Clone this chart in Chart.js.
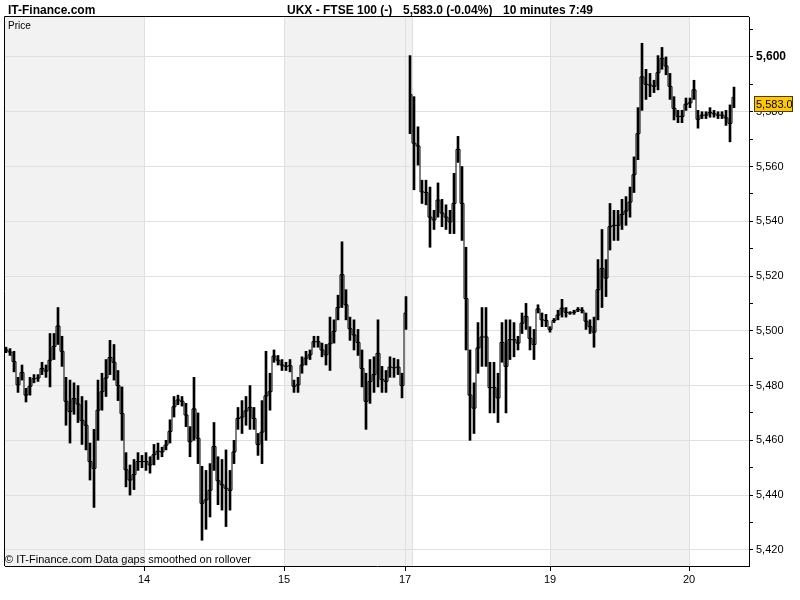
<!DOCTYPE html>
<html>
<head>
<meta charset="utf-8">
<title>UKX - FTSE 100</title>
<script src="https://cdn.jsdelivr.net/npm/chart.js@4.4.1/dist/chart.umd.min.js"></script>
<style>
  html, body { margin: 0; padding: 0; background: #fff; }
</style>
</head>
<body>
<canvas id="chart" width="800" height="600"></canvas>
<script>
// 10 minute bars, one entry per ~two bars
const highs = [
  5494, 5493.5, 5492.5, 5483, 5487.5, 5479, 5483, 5484, 5484, 5488.5,
  5487.5, 5499, 5499, 5508.5, 5498, 5483, 5482, 5481, 5480, 5476,
  5474.5, 5459, 5464, 5482, 5484.5, 5489.5, 5496.5, 5495, 5485.5, 5479.5,
  5455.5, 5451, 5453, 5455.5, 5454.5, 5455.5, 5454, 5458.5, 5459, 5457.5,
  5460, 5467.5, 5476, 5476.5, 5476, 5473.5, 5465, 5483, 5470, 5450.5,
  5449, 5451.5, 5466.5, 5454, 5453, 5456.5, 5449, 5460, 5472, 5474.5,
  5476, 5480, 5472, 5462.5, 5474.5, 5492.5, 5484.5, 5493, 5491, 5489.5,
  5488.5, 5489.5, 5482, 5483, 5490.5, 5492.5, 5493, 5498, 5498, 5495.5,
  5495, 5505, 5504, 5513, 5532.5, 5515, 5505, 5504, 5500.5, 5493,
  5484.5, 5489.5, 5490.5, 5504, 5487, 5485.5, 5490.5, 5490, 5489.5, 5484.5,
  5512.5, 5600.5, 5585.5, 5574.5, 5555, 5555, 5552.5, 5544, 5554, 5548,
  5546, 5544, 5557.5, 5571, 5560, 5530.5, 5493, 5481, 5503, 5508.5,
  5508.5, 5488.5, 5488.5, 5484.5, 5503, 5504, 5504, 5503, 5498, 5506.5,
  5510, 5501.5, 5500.5, 5509.5, 5506.5, 5506, 5501.5, 5504.5, 5507.5, 5511.5,
  5508.5, 5507, 5507.5, 5508.5, 5508.5, 5506.5, 5504, 5505, 5526, 5537,
  5526, 5546.5, 5544, 5544, 5548, 5549, 5552.5, 5563.5, 5581.5, 5605,
  5595.5, 5594, 5591.5, 5600.5, 5603.5, 5600, 5594, 5585.5, 5580.5, 5580.5,
  5585, 5585, 5591.5, 5580.5, 5580, 5580, 5581.5, 5580.5, 5580, 5580,
  5580.5, 5582.5, 5589
];
const lows = [
  5492, 5491, 5485, 5477.5, 5482, 5474, 5476.5, 5481, 5481.5, 5484,
  5483, 5479.5, 5489.5, 5495, 5487, 5465.5, 5459, 5469.5, 5466.5, 5458.5,
  5456.5, 5445.5, 5435.5, 5460, 5471, 5476, 5484, 5482, 5474.5, 5460,
  5443, 5440, 5442, 5449, 5450, 5449, 5448, 5451, 5453, 5454,
  5456.5, 5459, 5468.5, 5473, 5472.5, 5465, 5454, 5460, 5451.5, 5423.5,
  5427.5, 5432, 5449, 5436.5, 5434.5, 5428.5, 5434.5, 5451.5, 5464, 5462.5,
  5465.5, 5464, 5464, 5454.5, 5451.5, 5460, 5471, 5488.5, 5487.5, 5485.5,
  5485.5, 5485, 5477.5, 5477.5, 5484.5, 5487.5, 5489.5, 5494, 5494, 5490.5,
  5487.5, 5485.5, 5495.5, 5504, 5508.5, 5504, 5496.5, 5493, 5491, 5479.5,
  5464, 5473.5, 5477.5, 5479.5, 5477.5, 5477.5, 5483, 5483, 5484, 5475.5,
  5500.5, 5572, 5551.5, 5560.5, 5546.5, 5546, 5530.5, 5537, 5541.5, 5538,
  5537, 5535.5, 5535.5, 5561.5, 5533, 5493, 5460, 5462.5, 5484.5, 5487,
  5487, 5470, 5470, 5466.5, 5488.5, 5470, 5489.5, 5490.5, 5493, 5499,
  5500.5, 5493, 5489.5, 5506.5, 5501.5, 5501.5, 5499.5, 5503, 5504, 5505,
  5505, 5506, 5506, 5507, 5506.5, 5500.5, 5499, 5494, 5504, 5508.5,
  5512.5, 5529.5, 5533, 5533, 5537, 5538.5, 5541.5, 5550.5, 5562.5, 5580.5,
  5584.5, 5585.5, 5587, 5588, 5595.5, 5593.5, 5584.5, 5577, 5576, 5576,
  5580.5, 5581.5, 5584.5, 5574, 5577.5, 5577.5, 5578, 5578, 5577.5, 5577.5,
  5575, 5569, 5581.5
];
const lastPrice = 5583.0;

// day labels and the bar index where each day starts
const dayLabels = ['14', '15', '17', '19', '20'];
const dayStarts = [34.5, 69.5, 99.75, 136, 170.75];
const shadedDays = [[-0.25, 34.5], [69.5, 101.5], [136, 170.75]];
const dayLines = [34.5, 69.5, 99.75, 101.5, 136, 170.75];

const priceTicks = [];
for (let v = 5420; v <= 5610; v += 10) priceTicks.push(v);

const FONT = '"Liberation Sans", Arial, sans-serif';
const fmt = v => v.toLocaleString('en-US');

const chartFrame = {
  id: 'chartFrame',
  beforeDraw(chart) {
    const { ctx, chartArea: a, scales: { x } } = chart;
    ctx.save();
    ctx.fillStyle = '#fff';
    ctx.fillRect(0, 0, chart.width, chart.height);
    ctx.fillStyle = '#f2f2f2';
    shadedDays.forEach(([from, to]) => {
      const x0 = Math.max(a.left, x.getPixelForValue(from));
      const x1 = x.getPixelForValue(to);
      ctx.fillRect(x0, a.top, x1 - x0, a.bottom - a.top);
    });
    ctx.strokeStyle = '#e0e0e0';
    ctx.lineWidth = 1;
    dayLines.forEach(v => {
      const px = Math.round(x.getPixelForValue(v)) + 0.5;
      ctx.beginPath();
      ctx.moveTo(px, a.top);
      ctx.lineTo(px, a.bottom);
      ctx.stroke();
    });
    ctx.restore();
  },
  afterDraw(chart) {
    const { ctx, chartArea: a, scales: { y } } = chart;
    ctx.save();
    // left and top edges of the frame
    ctx.strokeStyle = '#000';
    ctx.lineWidth = 1;
    ctx.beginPath();
    ctx.moveTo(a.left - 0.5, a.bottom);
    ctx.lineTo(a.left - 0.5, a.top - 0.5);
    ctx.lineTo(a.right, a.top - 0.5);
    ctx.stroke();

    ctx.fillStyle = '#000';
    ctx.textBaseline = 'alphabetic';
    ctx.font = 'bold 12px ' + FONT;
    ctx.fillText('IT-Finance.com', 8, 14);
    ctx.fillText('UKX - FTSE 100 (-)', 287, 14);
    ctx.fillText('5,583.0 (-0.04%)', 403, 14);
    ctx.fillText('10 minutes', 503, 14);
    ctx.fillText('7:49', 569, 14);

    ctx.font = '10px ' + FONT;
    ctx.fillText('Price', 8, 29);
    ctx.font = '11px ' + FONT;
    ctx.fillText('\u00a9 IT-Finance.com', 5, 563);
    ctx.fillText('Data gaps smoothed on rollover', 95, 563);

    // last price tag
    const py = Math.round(y.getPixelForValue(lastPrice));
    ctx.fillStyle = '#ffc800';
    ctx.fillRect(754, py - 8, 39, 16);
    ctx.strokeStyle = '#4a3c00';
    ctx.strokeRect(754.5, py - 7.5, 38, 15);
    ctx.fillStyle = '#000';
    ctx.font = '11px ' + FONT;
    ctx.textBaseline = 'middle';
    ctx.fillText(lastPrice.toLocaleString('en-US', { minimumFractionDigits: 1 }), 756, py + 1);
    ctx.restore();
  }
};

new Chart(document.getElementById('chart'), {
  type: 'bar',
  data: {
    datasets: [{
      // high-low range of each bar
      data: highs.map((h, i) => ({ x: i, y: [lows[i], h] })),
      backgroundColor: '#000',
      borderWidth: 0,
      barThickness: 2,
      order: 2
    }, {
      // thin stepped trace joining the bars
      type: 'line',
      data: highs.map((h, i) => ({ x: i, y: (h + lows[i]) / 2 })),
      borderColor: '#000',
      borderWidth: 1,
      pointRadius: 0,
      stepped: 'middle',
      segment: {
        borderColor: c => Math.abs(c.p1.parsed.y - c.p0.parsed.y) > 40 ? 'rgba(0,0,0,0)' : '#000'
      },
      order: 1
    }]
  },
  options: {
    responsive: false,
    animation: false,
    layout: { padding: { left: 5, top: 17, right: 0, bottom: 0 } },
    plugins: { legend: { display: false }, tooltip: { enabled: false } },
    scales: {
      x: {
        type: 'linear',
        min: -0.25,
        max: 185.75,
        offset: false,
        afterFit: s => { s.height = 34; },
        afterBuildTicks: s => { s.ticks = dayStarts.map(v => ({ value: v })); },
        grid: { offset: false, drawOnChartArea: false, tickLength: 5, tickColor: '#000' },
        border: { color: '#000' },
        ticks: {
          autoSkip: false,
          maxRotation: 0,
          padding: 2,
          color: '#000',
          font: { family: FONT, size: 11 },
          callback: (v, i) => dayLabels[i]
        }
      },
      y: {
        position: 'right',
        min: 5414.1,
        max: 5614.6,
        afterFit: s => { s.width = 51; },
        afterBuildTicks: s => { s.ticks = priceTicks.map(v => ({ value: v })); },
        grid: {
          color: c => (c.tick && c.tick.value % 20 === 0) ? '#e0e0e0' : 'rgba(0,0,0,0)',
          tickColor: '#000',
          tickLength: 4
        },
        border: { color: '#000' },
        ticks: {
          padding: 3,
          color: '#000',
          autoSkip: false,
          font: c => (c.tick && c.tick.value === 5600)
            ? { family: FONT, size: 12, weight: 'bold' }
            : { family: FONT, size: 11 },
          callback: v => v % 20 === 0 ? fmt(v) : ''
        }
      }
    }
  },
  plugins: [chartFrame]
});
</script>
</body>
</html>
